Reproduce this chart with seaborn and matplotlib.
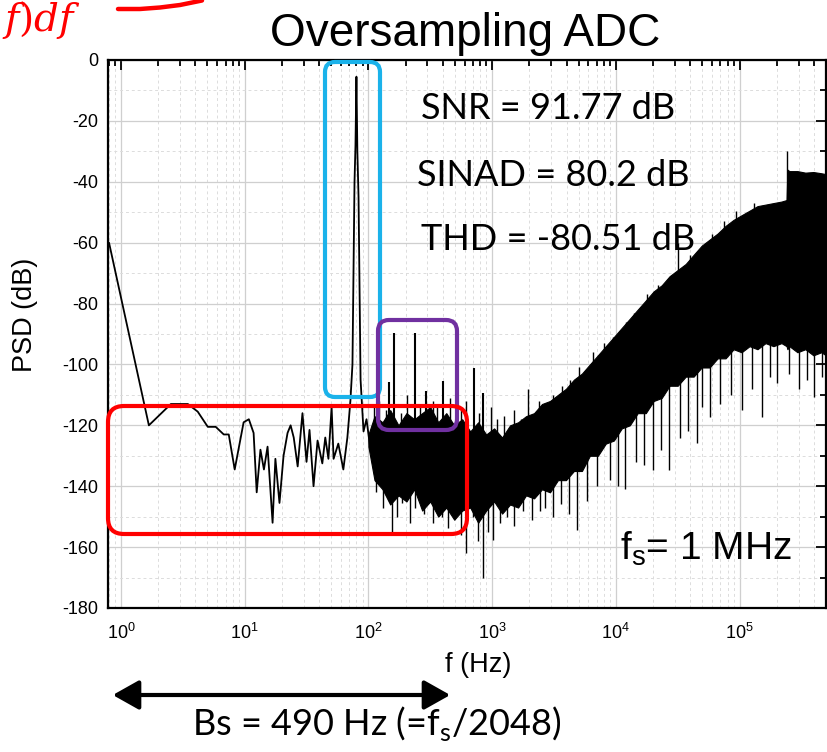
import numpy as np
import pandas as pd
import matplotlib
matplotlib.use("Agg")
import matplotlib.pyplot as plt
import seaborn as sns
from matplotlib.patches import FancyBboxPatch, FancyArrowPatch
from matplotlib.lines import Line2D
from matplotlib.transforms import IdentityTransform
from matplotlib.ticker import MultipleLocator, LogLocator, NullFormatter

# ---------------- data ----------------
trace_f = [0.80, 1.68, 2.53, 3.47, 4.17, 5.03, 5.83, 6.77, 7.43, 8.3, 9.8, 10.8, 11.8,
           12.5, 13.4, 14.3, 15.3, 16.8, 17.7, 19.1, 20.6, 22.2, 23.5, 24.9, 26.8, 29.3,
           31.6, 33.4, 36.0, 38.8, 42.4, 44.8, 47.5, 50.4, 52.3, 57.1, 62.7, 67.6, 71.5,
           74.3, 77.2, 78.6, 80.0, 81.4, 83.2, 86.4, 91.3, 96.5, 103.9]
trace_db = [-60, -120, -113, -113, -115.5, -120.5, -120.5, -123, -123, -134.5, -119, -118,
            -122.5, -142, -128, -134.5, -127, -152, -131, -145.5, -130, -122.5, -120, -124,
            -133.5, -116, -132, -121.5, -140, -125, -132.5, -124, -131, -114, -131, -126,
            -134.5, -124, -112, -100, -40, -28, -5.5, -30, -45, -105, -122, -118, -128]

band_f = [100, 112, 130, 150, 175, 203, 235, 272, 316, 367, 426, 494, 573, 665, 771, 895,
          1038, 1204, 1397, 1622, 1880, 2183, 2530, 2938, 3405, 3953, 4584, 5321, 6166,
          7161, 8299, 9638, 11170, 12970, 15030, 17460, 20230, 23500, 27230, 31620, 36730,
          42560, 49430, 57280, 66530, 77110, 89540, 103800, 120500, 139700, 162200, 187900,
          218300, 240000, 243800, 252900, 293800, 340500, 395300, 458400, 500000]
band_hi = [-123, -117, -119, -115, -120, -116, -118, -116, -114, -119, -116, -120, -118,
           -122, -119, -123, -121, -124, -120, -119, -117, -116, -113, -112, -110, -108,
           -105, -103, -100, -97, -94, -91, -88, -85, -82, -79, -76, -74, -71, -69, -67,
           -64, -61, -59, -57, -54.5, -52.5, -51, -49.5, -48, -47.5, -47, -46.5, -46,
           -36, -36.5, -36.5, -37, -36.8, -37.2, -37.5]
band_lo = [-127, -138, -141, -146, -143, -145, -141, -148, -145, -150, -147, -151, -148,
           -147, -152, -148, -145, -149, -146, -147, -143, -144, -141, -142, -138, -138,
           -135, -135, -130, -130, -126, -125, -121, -120, -116, -116, -112, -111, -107,
           -107, -104, -104, -101, -101, -98, -98, -95, -96, -94, -95, -93, -94, -93,
           -94, -95, -94, -96, -95, -97, -96, -97]

tone_f = [148, 160, 240, 290, 403, 716, 846]
tone_db = [-105.8, -89.8, -89.6, -108.7, -105.5, -101.2, -109.5]

uspike_f = [110, 122, 138, 185, 205, 262, 330, 360, 455, 520, 560, 620, 780, 980, 1100,
            1250, 1500, 1700, 1950, 2400, 2700, 3100, 3700, 4300, 5000, 6500, 8000, 9460,
            12000, 14000, 18000, 22000, 31600, 40000, 60000, 75000, 92900, 130000, 243800]
uspike_db = [-114, -112, -115, -116, -110, -113, -112, -114, -111, -113, -115, -112, -116,
             -114, -118, -117, -115, -118, -108, -112, -113, -110, -107, -105, -101, -96,
             -93, -91, -86, -83, -77, -74, -60, -64, -57, -53, -49.6, -47, -29.9]

dspike_f = [116, 132, 156, 170, 188, 215, 239, 280, 334, 390, 442, 503, 560, 617, 700, 770,
            846, 930, 1018, 1150, 1321, 1500, 1778, 2100, 2438, 2700, 3100, 3600, 4200,
            4842, 5800, 7035, 9000, 10500, 11830, 14500, 17000, 19870, 23000, 26900, 33000,
            38000, 45000, 50000, 57300, 70000, 85000, 103800, 125000, 153000, 175000,
            200000, 253000, 300000, 350000, 402000, 460000]
dspike_db = [-142, -147, -155, -150, -145.5, -152, -147, -149, -152, -150, -153.7, -148,
             -156, -162, -150, -158, -170, -155, -157.7, -152, -150, -153, -148, -151, -148,
             -147, -150, -146, -149, -154.4, -145, -140, -138, -140, -141, -132, -133,
             -134.7, -128, -134.7, -124, -122, -125.8, -114, -117.3, -113, -110, -115, -108,
             -117.3, -104, -106, -103, -108, -105, -110.7, -104]

# ---------------- figure ----------------
sns.set_style("white")
plt.rcParams["font.family"] = ["Liberation Sans", "DejaVu Sans"]
plt.rcParams["mathtext.fontset"] = "custom"
plt.rcParams["mathtext.rm"] = "Liberation Sans"
plt.rcParams["mathtext.it"] = "Liberation Sans:italic"
plt.rcParams["axes.unicode_minus"] = False
for k in ["text.color", "axes.labelcolor", "xtick.color", "ytick.color"]:
    plt.rcParams[k] = "black"

W, H = 828, 752
fig = plt.figure(figsize=(W / 100, H / 100), dpi=100)
ax = fig.add_axes([108 / W, 1 - 608 / H, (826 - 108) / W, (608 - 60) / H])

ax.set_xscale("log")
ax.set_xlim(0.785, 5e5)
ax.set_ylim(-180, 0)

# noise band
lf = np.log10(band_f)
ax.fill_between(band_f, band_lo, band_hi, color="black", lw=0.8, edgecolor="black", zorder=2)

# spikes
lo_at = np.interp(np.log10(uspike_f), lf, band_lo)
ax.vlines(uspike_f, lo_at + 5, uspike_db, color="black", lw=1.0, zorder=2)
hi_at = np.interp(np.log10(dspike_f), lf, band_hi)
ax.vlines(dspike_f, hi_at - 5, dspike_db, color="black", lw=1.0, zorder=2)
ax.vlines(tone_f, [-130] * len(tone_f), tone_db, color="black", lw=1.5, zorder=2)

# low-frequency trace via seaborn
df = pd.DataFrame({"f": trace_f, "psd": trace_db})
sns.lineplot(data=df, x="f", y="psd", ax=ax, color="black", lw=1.3,
             estimator=None, sort=False, zorder=3)

ax.set_xlabel("")
ax.set_ylabel("")

# ticks and grid
ax.yaxis.set_major_locator(MultipleLocator(20))
ax.yaxis.set_minor_locator(MultipleLocator(10))
ax.xaxis.set_major_locator(LogLocator(base=10, numticks=20))
ax.xaxis.set_minor_locator(LogLocator(base=10, subs=np.arange(2, 10), numticks=100))
ax.xaxis.set_minor_formatter(NullFormatter())
ax.tick_params(which="both", direction="in", top=True, right=True, width=1.3,
               labelsize=13, pad=7)
ax.tick_params(axis="x", which="major", pad=11)
ax.tick_params(which="major", length=7)
ax.tick_params(which="minor", length=4)
ax.set_axisbelow(True)
ax.grid(which="major", color="#cfcfcf", lw=0.9, ls="-")
ax.grid(which="minor", color="#dcdcdc", lw=0.7, ls=(0, (3, 3)))
for s in ax.spines.values():
    s.set_linewidth(1.6)
    s.set_color("black")

def P(x, y):
    return x / W, 1 - y / H

# titles and labels
fig.text(*P(465, 46), "Oversampling ADC", ha="center", va="baseline", fontsize=33)
fig.text(*P(25, 315), "PSD (dB)", ha="center", va="center", rotation=90, fontsize=19.5)
fig.text(*P(478, 665), "f (Hz)", ha="center", va="center", fontsize=19.5)

calib = ["Lato", "DejaVu Sans"]
fig.text(*P(421, 119), "SNR = 91.77 dB", ha="left", va="baseline", fontsize=26, family=calib)
fig.text(*P(417, 186), "SINAD = 80.2 dB", ha="left", va="baseline", fontsize=26, family=calib)
fig.text(*P(421, 250), "THD = -80.51 dB", ha="left", va="baseline", fontsize=26, family=calib)
fig.text(*P(620, 560), r"f$_\mathregular{s}$= 1 MHz", ha="left", va="baseline", fontsize=28)
fig.text(*P(192, 735), r"Bs = 490 Hz (=f$_\mathregular{s}$/2048)", ha="left", va="baseline",
         fontsize=26, family=calib)

# rounded boxes (pixel coordinates)
def rbox(x0, y0, x1, y1, color, r):
    p = FancyBboxPatch((x0, H - y1), x1 - x0, y1 - y0,
                       boxstyle=f"round,pad=0,rounding_size={r}",
                       transform=IdentityTransform(), fill=False, ec=color, lw=3.0,
                       zorder=10)
    fig.add_artist(p)

rbox(325, 62, 380, 397, "#1AB2EA", 10)
rbox(378, 320, 457, 430, "#7030A0", 11)
rbox(108, 406, 467, 534, "#FF0000", 16)

# bandwidth arrow
arr = FancyArrowPatch((110, H - 695), (453, H - 695),
                      arrowstyle="<|-|>,head_length=16,head_width=9",
                      transform=IdentityTransform(), color="black", lw=3.0, mutation_scale=1)
fig.add_artist(arr)

# slide fragments at top-left
fig.text(*P(2, 20), r"$f)df$", ha="left", va="center", fontsize=28, color="red",
         math_fontfamily="dejavuserif")
fig.add_artist(Line2D([118, 140, 160, 180, 202], [H - 9, H - 9, H - 7.5, H - 5, H - 0.5],
                      transform=IdentityTransform(), color="red", lw=3.2))

fig.savefig("out.png", dpi=100)
